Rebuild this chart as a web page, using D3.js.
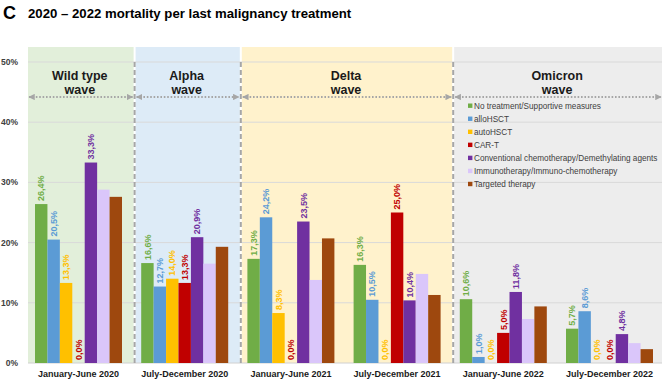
<!DOCTYPE html>
<html><head><meta charset="utf-8">
<script src="https://cdn.jsdelivr.net/npm/d3@7"></script>
<style>body{margin:0;background:#fff}svg{display:block;font-family:"Liberation Sans",Arial,sans-serif}</style>
</head><body><svg id="c" width="669" height="379"></svg>
<script>
const categories = ["January-June 2020","July-December 2020","January-June 2021","July-December 2021","January-June 2022","July-December 2022"];
const seriesNames = ["No treatment/Supportive measures","alloHSCT","autoHSCT","CAR-T","Conventional chemotherapy/Demethylating agents","Immunotherapy/Immuno-chemotherapy","Targeted therapy"];
const noTreatment = [26.4,16.6,17.3,16.3,10.6,5.7];
const alloHSCT    = [20.5,12.7,24.2,10.5,1.0,8.6];
const autoHSCT    = [13.3,14.0,8.3,0.0,0.0,0.0];
const carT        = [0.0,13.3,0.0,25.0,5.0,0.0];
const chemo       = [33.3,20.9,23.5,10.4,11.8,4.8];
const immuno      = [28.8,16.5,13.8,14.8,7.3,3.3];
const targeted    = [27.6,19.3,20.7,11.3,9.4,2.3];
const labelled    = [true,true,true,true,true,false,false];
const waveNames = [["Wild type","wave"],["Alpha","wave"],["Delta","wave"],["Omicron","wave"]];
const waveStart = [0,1,2,4];
const waveEnd   = [0,1,3,5];
const yTicks = [0,10,20,30,40,50];

const colors = ["#70AD47","#5B9BD5","#FFC000","#C00000","#7030A0","#DAC6FA","#9E480E"];
const bandColors = ["#E2EFDA","#DDEBF7","#FFF2CC","#EDEDED"];
const values = [noTreatment,alloHSCT,autoHSCT,carT,chemo,immuno,targeted];

const svg = d3.select("#c");
const x = d3.scaleBand().domain(categories).range([25.4,662.6]).padding(0);
const xi = d3.scaleBand().domain(d3.range(7)).range([9.6, x.bandwidth()-9.6]).padding(0);
const y = d3.scaleLinear().domain([0,50]).range([363,62]);
const fmt = v => v.toFixed(1).replace(".",",")+"%";

// title
svg.append("text").attr("x",3).attr("y",19).attr("font-size",18).attr("font-weight","bold").attr("fill","#000").text("C");
svg.append("text").attr("x",28).attr("y",18).attr("font-size",13.2).attr("font-weight","bold").attr("fill","#000").text("2020 – 2022 mortality per last malignancy treatment");

// wave backgrounds
const edge = i => i===0 ? 28 : (i===categories.length ? 662 : x(categories[i]) + 3);
const waves = waveNames.map((n,i)=>({name:n, x0: edge(waveStart[i]) + (i===0?0:1), x1: edge(waveEnd[i]+1) - (i===waveNames.length-1?0:1), color: bandColors[i]}));
svg.append("g").selectAll("rect").data(waves).join("rect")
  .attr("x",d=>d.x0).attr("y",47).attr("width",d=>d.x1-d.x0).attr("height",y(0)-47).attr("fill",d=>d.color);

// grid
svg.append("g").selectAll("line").data(yTicks).join("line")
  .attr("x1",28).attr("x2",662).attr("y1",d=>y(d)).attr("y2",d=>y(d))
  .attr("stroke",d=>d===0?"#D0D0D0":"#D9D9D9").attr("stroke-width",1);

// y labels
svg.append("g").selectAll("text").data(yTicks).join("text")
  .attr("x",18).attr("y",d=>y(d)+3).attr("text-anchor","end").attr("font-size",8.5).attr("font-weight","bold").attr("fill","#404040")
  .text(d=>d+"%");

// dashed dividers
const dividers = waveStart.slice(1).map(s=>edge(s));
svg.append("g").selectAll("line").data(dividers).join("line")
  .attr("x1",d=>d).attr("x2",d=>d).attr("y1",y(50)).attr("y2",y(0))
  .attr("stroke","#A6A6A6").attr("stroke-width",2).attr("stroke-dasharray","5,3");

// arrows
const defs = svg.append("defs");
defs.append("marker").attr("id","ah").attr("viewBox","0 0 10 10").attr("refX",9).attr("refY",5)
  .attr("markerWidth",3.2).attr("markerHeight",3.2).attr("orient","auto-start-reverse").attr("markerUnits","strokeWidth")
  .append("path").attr("d","M0,0L10,5L0,10z").attr("fill","#A6A6A6");
svg.append("g").selectAll("line").data(waves).join("line")
  .attr("x1",d=>d.x0+1).attr("x2",d=>d.x1-1).attr("y1",97).attr("y2",97)
  .attr("stroke","#A6A6A6").attr("stroke-width",2).attr("stroke-dasharray","1.6,1.8")
  .attr("marker-start","url(#ah)").attr("marker-end","url(#ah)");

// wave labels
waves.forEach(w=>{
  const t = svg.append("text").attr("text-anchor","middle").attr("font-size",12.5).attr("font-weight","bold").attr("fill","#1a1a1a");
  t.append("tspan").attr("x",(w.x0+w.x1)/2 - 1).attr("y",80).text(w.name[0]);
  t.append("tspan").attr("x",(w.x0+w.x1)/2 - 1).attr("y",94).text(w.name[1]);
});

// bars
const groups = svg.append("g").selectAll("g").data(categories).join("g").attr("transform",c=>`translate(${x(c)},0)`);
groups.each(function(c,ci){
  const g = d3.select(this);
  const d = values.map((s,si)=>({si, v:s[ci]}));
  g.selectAll("rect").data(d).join("rect")
    .attr("x",e=>xi(e.si)).attr("width",xi.bandwidth()).attr("y",e=>y(e.v)).attr("height",e=>y(0)-y(e.v))
    .attr("fill",e=>colors[e.si]);
  g.selectAll("text").data(d.filter(e=>labelled[e.si])).join("text")
    .attr("transform",e=>`translate(${xi(e.si)+xi.bandwidth()/2+3.2},${y(e.v)-3}) rotate(-90)`)
    .attr("font-size",9).attr("font-weight","bold").attr("fill",e=>colors[e.si])
    .text(e=>fmt(e.v));
});

// category labels
svg.append("g").selectAll("text").data(categories).join("text")
  .attr("x",c=>x(c)+x.bandwidth()/2).attr("y",376.5).attr("text-anchor","middle")
  .attr("font-size",9).attr("font-weight","bold").attr("fill","#1a1a1a").text(c=>c);

// legend
const lg = svg.append("g").selectAll("g").data(seriesNames).join("g")
  .attr("transform",(d,i)=>`translate(468,${105.7+i*13.05})`);
lg.append("rect").attr("x",0).attr("y",-2.2).attr("width",4.4).attr("height",4.4).attr("fill",(d,i)=>colors[i]);
lg.append("text").attr("x",6).attr("y",3.1).attr("font-size",8.2).attr("fill","#404040").text(d=>d);
</script></body></html>
